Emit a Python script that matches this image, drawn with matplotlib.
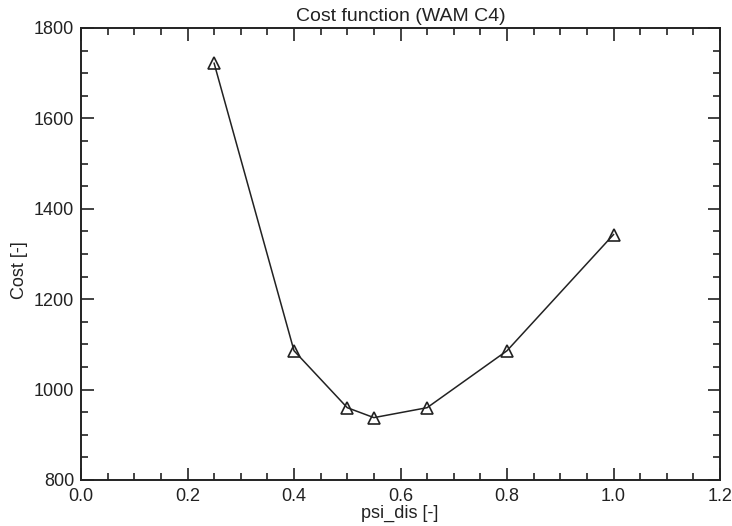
import matplotlib
matplotlib.use("Agg")
import matplotlib.pyplot as plt
from matplotlib.ticker import MultipleLocator, FormatStrFormatter

psi_dis = [0.25, 0.4, 0.5, 0.55, 0.65, 0.8, 1.0]
cost = [1722, 1086, 960, 938, 960, 1086, 1343]

plt.rcParams['font.family'] = ['Liberation Sans', 'DejaVu Sans']

fig = plt.figure(figsize=(7.32, 5.26), dpi=100)
ax = fig.add_axes([81/732, 1-480/526, (720-81)/732, (480-28)/526])
ax.plot(psi_dis, cost, color='#222222', lw=1.1, marker='^', ms=9,
        mfc='none', mec='#222222', mew=1.2)
ax.set_xlim(0, 1.2)
ax.set_ylim(800, 1800)
ax.xaxis.set_major_locator(MultipleLocator(0.2))
ax.xaxis.set_minor_locator(MultipleLocator(0.05))
ax.yaxis.set_major_locator(MultipleLocator(200))
ax.yaxis.set_minor_locator(MultipleLocator(50))
ax.xaxis.set_major_formatter(FormatStrFormatter('%.1f'))
ax.tick_params(which='both', direction='in', top=True, right=True, colors='#222222', labelsize=13)
ax.tick_params(which='major', length=9, width=1.2)
ax.tick_params(which='minor', length=5, width=1.2)
ax.tick_params(axis='x', which='major', pad=6)
ax.tick_params(axis='y', which='major', pad=5)
for s in ax.spines.values():
    s.set_linewidth(1.4)
    s.set_color('#222222')
ax.set_title('Cost function (WAM C4)', fontsize=14, pad=5, color='#222222')
fig.text(400/732, 1-513/526, 'psi_dis [-]', fontsize=13, color='#222222',
         ha='center', va='center')
fig.text(20/732, 1-270/526, 'Cost [-]', fontsize=13, color='#222222',
         ha='center', va='center', rotation=90)
fig.savefig('out.png', dpi=100)
